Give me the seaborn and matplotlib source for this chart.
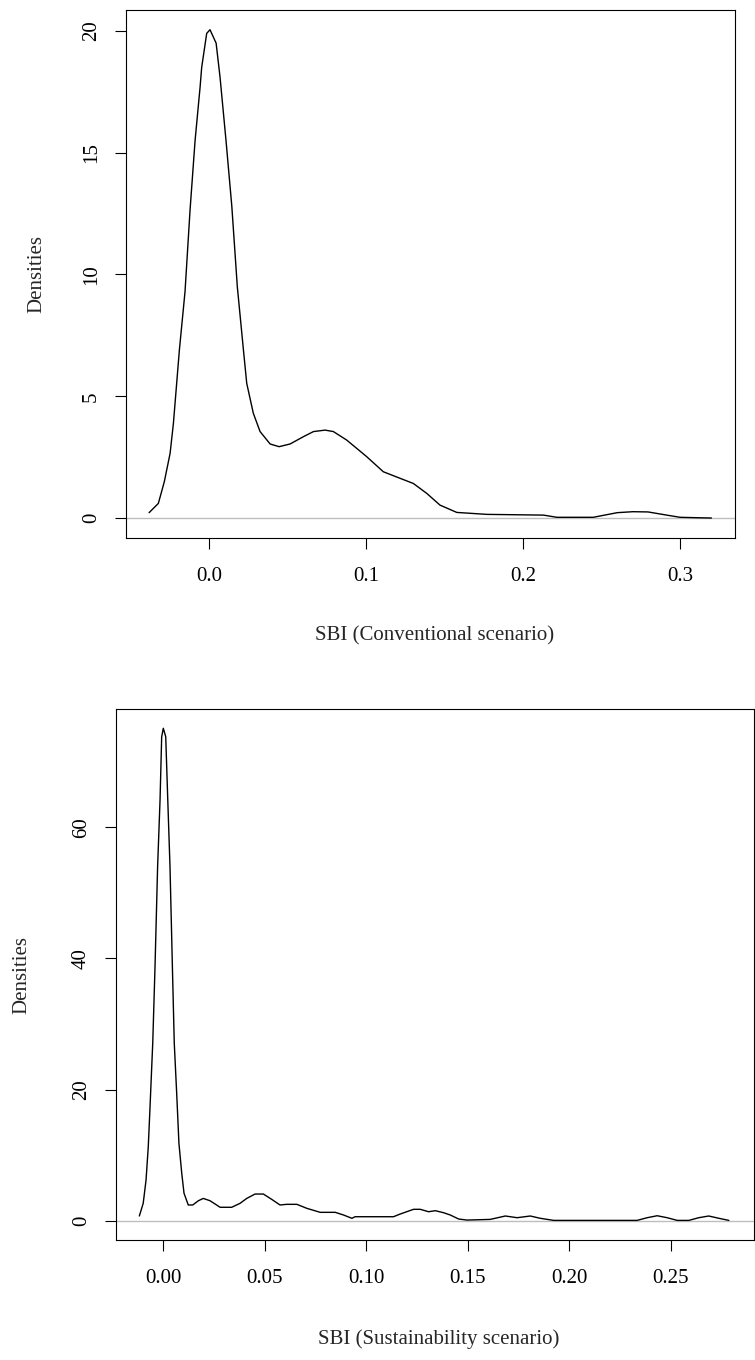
import matplotlib
matplotlib.use("Agg")
import matplotlib.pyplot as plt
import seaborn as sns

# density curve, conventional scenario
conv_x = [-0.0382, -0.0323, -0.0285, -0.0248, -0.0227, -0.0189, -0.0153, -0.0121,
          -0.0089, -0.0057, -0.0047, -0.0015, 0.0006, 0.0045, 0.0070, 0.0108,
          0.0145, 0.0180, 0.0219, 0.0240, 0.0282, 0.0325, 0.0389, 0.0446,
          0.0516, 0.0601, 0.0665, 0.0739, 0.0792, 0.0877, 0.1004, 0.1110,
          0.1217, 0.1301, 0.1387, 0.1471, 0.1578, 0.1770, 0.2130, 0.2215,
          0.2447, 0.2600, 0.2700, 0.2796, 0.2915, 0.3000, 0.3127, 0.3200]
conv_y = [0.22, 0.60, 1.49, 2.66, 3.89, 6.90, 9.30, 12.65,
          15.50, 17.70, 18.50, 19.90, 20.05, 19.50, 18.10, 15.50,
          12.80, 9.50, 6.90, 5.53, 4.30, 3.55, 3.04, 2.93,
          3.04, 3.34, 3.55, 3.61, 3.55, 3.20, 2.52, 1.90,
          1.63, 1.42, 1.01, 0.53, 0.23, 0.15, 0.12, 0.03,
          0.03, 0.22, 0.26, 0.25, 0.12, 0.03, 0.01, 0.00]

# density curve, sustainability scenario
sust_x = [-0.0118, -0.0099, -0.0085, -0.0074, -0.0066, -0.0052, -0.0041, -0.0028,
          -0.0016, -0.0008, 0.0000, 0.0012, 0.0022, 0.0033, 0.0045, 0.0054,
          0.0066, 0.0077, 0.0091, 0.0102, 0.0123, 0.0145, 0.0173, 0.0197,
          0.0230, 0.0280, 0.0337, 0.0378, 0.0411, 0.0452, 0.0493, 0.0534,
          0.0575, 0.0608, 0.0658, 0.0707, 0.0773, 0.0847, 0.0888, 0.0929,
          0.0945, 0.1134, 0.1167, 0.1233, 0.1266, 0.1307, 0.1340, 0.1381,
          0.1414, 0.1455, 0.1496, 0.1610, 0.1685, 0.1743, 0.1808, 0.1857,
          0.1923, 0.2334, 0.2384, 0.2433, 0.2482, 0.2532, 0.2589, 0.2638,
          0.2687, 0.2737, 0.2786]
sust_y = [0.72, 2.65, 6.20, 11.30, 16.90, 27.10, 38.50, 54.00,
          64.20, 73.80, 75.10, 73.80, 64.20, 54.00, 38.50, 27.10,
          19.40, 11.80, 7.20, 4.20, 2.40, 2.40, 3.05, 3.40,
          3.05, 2.05, 2.05, 2.65, 3.40, 4.07, 4.07, 3.26,
          2.40, 2.50, 2.50, 1.89, 1.28, 1.28, 0.87, 0.37,
          0.61, 0.61, 1.02, 1.74, 1.74, 1.37, 1.53, 1.22,
          0.87, 0.26, 0.10, 0.20, 0.72, 0.46, 0.72, 0.37,
          0.05, 0.05, 0.46, 0.76, 0.46, 0.05, 0.05, 0.46,
          0.72, 0.37, 0.05]

conv_xticks = [0.0, 0.1, 0.2, 0.3]
conv_xlabels = ["0.0", "0.1", "0.2", "0.3"]
conv_yticks = [0, 5, 10, 15, 20]
sust_xticks = [0.00, 0.05, 0.10, 0.15, 0.20, 0.25]
sust_xlabels = ["0.00", "0.05", "0.10", "0.15", "0.20", "0.25"]
sust_yticks = [0, 20, 40, 60]

sns.set_style("white")
plt.rcParams["font.family"] = ["Liberation Serif", "DejaVu Serif"]
plt.rcParams["axes.linewidth"] = 0.8

fig = plt.figure(figsize=(7.55, 13.6), dpi=100)
ax1 = fig.add_axes([126 / 755, 1 - 538 / 1360, 609 / 755, 528 / 1360])
ax2 = fig.add_axes([116 / 755, 1 - 1240 / 1360, 638 / 755, 531 / 1360])

FS = 15


def density_panel(ax, x, y, xticks, xlabels, yticks, xlim, ylim, xlabel):
    ax.axhline(0, color="#bebebe", lw=1.0, zorder=1)
    sns.lineplot(x=x, y=y, ax=ax, color="black", lw=1.0, sort=False,
                 estimator=None, zorder=2)
    ax.set_xlim(*xlim)
    ax.set_ylim(*ylim)
    ax.set_xticks(xticks)
    ax.set_xticklabels(xlabels)
    ax.set_yticks(yticks)
    for s in ax.spines.values():
        s.set_visible(True)
        s.set_color("black")
    ax.tick_params(axis="both", direction="out", length=8, width=0.8,
                   labelsize=FS, colors="black", bottom=True, left=True)
    ax.tick_params(axis="x", pad=13)
    ax.tick_params(axis="y", pad=10, labelrotation=90)
    for lab in ax.get_yticklabels():
        lab.set_va("center")
    ax.set_xlabel(xlabel, fontsize=FS)
    ax.set_ylabel("Densities", fontsize=FS)
    ax.xaxis.set_label_coords(0.506, -0.186)
    ax.xaxis.label.set_va("center")
    ax.yaxis.set_label_coords(-0.147, 0.5)
    ax.yaxis.label.set_va("center")


density_panel(ax1, conv_x, conv_y, conv_xticks, conv_xlabels, conv_yticks,
              (-0.0529, 0.335), (-0.82, 20.86), "SBI (Conventional scenario)")
density_panel(ax2, sust_x, sust_y, sust_xticks, sust_xlabels, sust_yticks,
              (-0.0233, 0.291), (-2.94, 78.04), "SBI (Sustainability scenario)")

fig.savefig("out.png", dpi=100, facecolor="white")
